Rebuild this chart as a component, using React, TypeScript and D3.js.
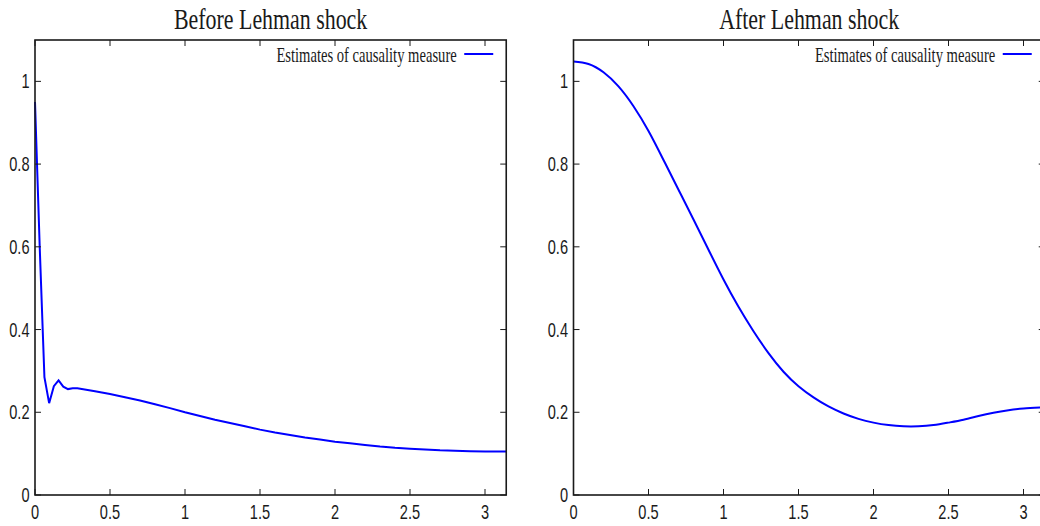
import React from "react";
import * as d3 from "d3";

const W = 1040;
const H = 526;

// frequency grid (0..pi) and estimates of the causality measure
const beforeX = [
  0, 0.0314, 0.0628, 0.0942, 0.1257, 0.1571, 0.1885, 0.2199, 0.2513, 0.2827,
  0.4, 0.5, 0.6, 0.7, 0.8, 0.9, 1.0, 1.1, 1.2, 1.3, 1.4, 1.5, 1.6, 1.7, 1.8,
  1.9, 2.0, 2.1, 2.2, 2.3, 2.4, 2.5, 2.6, 2.7, 2.8, 2.9, 3.0, 3.1416,
];
const beforeY = [
  0.95, 0.6, 0.285, 0.222, 0.263, 0.277, 0.262, 0.256, 0.258, 0.258,
  0.251, 0.244, 0.2365, 0.2285, 0.2195, 0.21, 0.2, 0.191, 0.182, 0.174, 0.166,
  0.158, 0.151, 0.145, 0.139, 0.134, 0.129, 0.125, 0.121, 0.117, 0.114,
  0.112, 0.11, 0.108, 0.107, 0.106, 0.105, 0.105,
];

const afterX = [
  0, 0.1, 0.2, 0.3, 0.4, 0.5, 0.6, 0.7, 0.8, 0.9, 1.0, 1.1, 1.2, 1.3, 1.4,
  1.5, 1.6, 1.7, 1.8, 1.9, 2.0, 2.1, 2.2, 2.3, 2.4, 2.5, 2.6, 2.7, 2.8, 2.9,
  3.0, 3.1416,
];
const afterY = [
  1.048, 1.042, 1.022, 0.988, 0.94, 0.88, 0.81, 0.738, 0.666, 0.593, 0.521,
  0.455, 0.396, 0.343, 0.298, 0.263, 0.236, 0.214, 0.197, 0.184, 0.175, 0.169,
  0.166, 0.166, 0.169, 0.175, 0.182, 0.191, 0.199, 0.205, 0.209, 0.212,
];

const xTicks = [0, 0.5, 1, 1.5, 2, 2.5, 3];
const yTicks = [0, 0.2, 0.4, 0.6, 0.8, 1];
const legendLabel = "Estimates of causality measure";

const SX = 0.73; // glyphs in the original are squeezed horizontally
const SANS = "'Liberation Sans', Arial, sans-serif";
const SERIF = "'Liberation Serif', 'Times New Roman', serif";
const INK = "#1a1a1a";

function SText({ x, y, size, family, anchor, children }: any) {
  return (
    <text
      transform={`translate(${x},${y}) scale(${SX},1)`}
      fontSize={size}
      fontFamily={family}
      textAnchor={anchor}
      fill={INK}
    >
      {children}
    </text>
  );
}

function Panel({ title, xs, ys, left, curve }: any) {
  const top = 40;
  const bottom = 495;
  const x = d3.scaleLinear().domain([0, Math.PI]).range([left, left + 150 * Math.PI]);
  const y = d3.scaleLinear().domain([0, 1.1]).range([bottom, top]);
  const [x0, x1] = x.range();
  const tick = 6;

  const line = d3
    .line<number>()
    .x((_, i) => x(xs[i]))
    .y((d) => y(d))
    .curve(curve);

  const legY = 54;
  const legLineEnd = x1 - 13;
  const legLineStart = legLineEnd - 29;

  return (
    <g>
      <SText x={(x0 + x1) / 2} y={28.5} size={30} family={SERIF} anchor="middle">
        {title}
      </SText>

      <path d={line(ys) || ""} fill="none" stroke="#0000ff" strokeWidth={2} />

      {xTicks.map((t) => (
        <g key={"x" + t}>
          <line x1={x(t)} x2={x(t)} y1={bottom} y2={bottom - tick} stroke={INK} strokeWidth={1} />
          <line x1={x(t)} x2={x(t)} y1={top} y2={top + tick} stroke={INK} strokeWidth={1} />
          <SText x={x(t)} y={519} size={20} family={SANS} anchor="middle">
            {String(t)}
          </SText>
        </g>
      ))}
      {yTicks.map((t) => (
        <g key={"y" + t}>
          <line x1={x0} x2={x0 + tick} y1={y(t)} y2={y(t)} stroke={INK} strokeWidth={1} />
          <line x1={x1} x2={x1 - tick} y1={y(t)} y2={y(t)} stroke={INK} strokeWidth={1} />
          <SText x={x0 - 5.5} y={y(t) + 7} size={20} family={SANS} anchor="end">
            {String(t)}
          </SText>
        </g>
      ))}

      <rect
        x={x0}
        y={top}
        width={x1 - x0}
        height={bottom - top}
        fill="none"
        stroke={INK}
        strokeWidth={1.6}
      />

      <SText x={legLineStart - 7.5} y={61.5} size={20} family={SERIF} anchor="end">
        {legendLabel}
      </SText>
      <line
        x1={legLineStart}
        x2={legLineEnd}
        y1={legY}
        y2={legY}
        stroke="#0000ff"
        strokeWidth={2}
      />
    </g>
  );
}

export default function App() {
  return (
    <svg
      width={W}
      height={H}
      style={{ position: "absolute", left: 0, top: 0, background: "#fff" }}
    >
      <rect width={W} height={H} fill="#fff" />
      <Panel title="Before Lehman shock" xs={beforeX} ys={beforeY} left={35} curve={d3.curveLinear} />
      <Panel
        title="After Lehman shock"
        xs={afterX}
        ys={afterY}
        left={573.5}
        curve={d3.curveNatural}
      />
    </svg>
  );
}
